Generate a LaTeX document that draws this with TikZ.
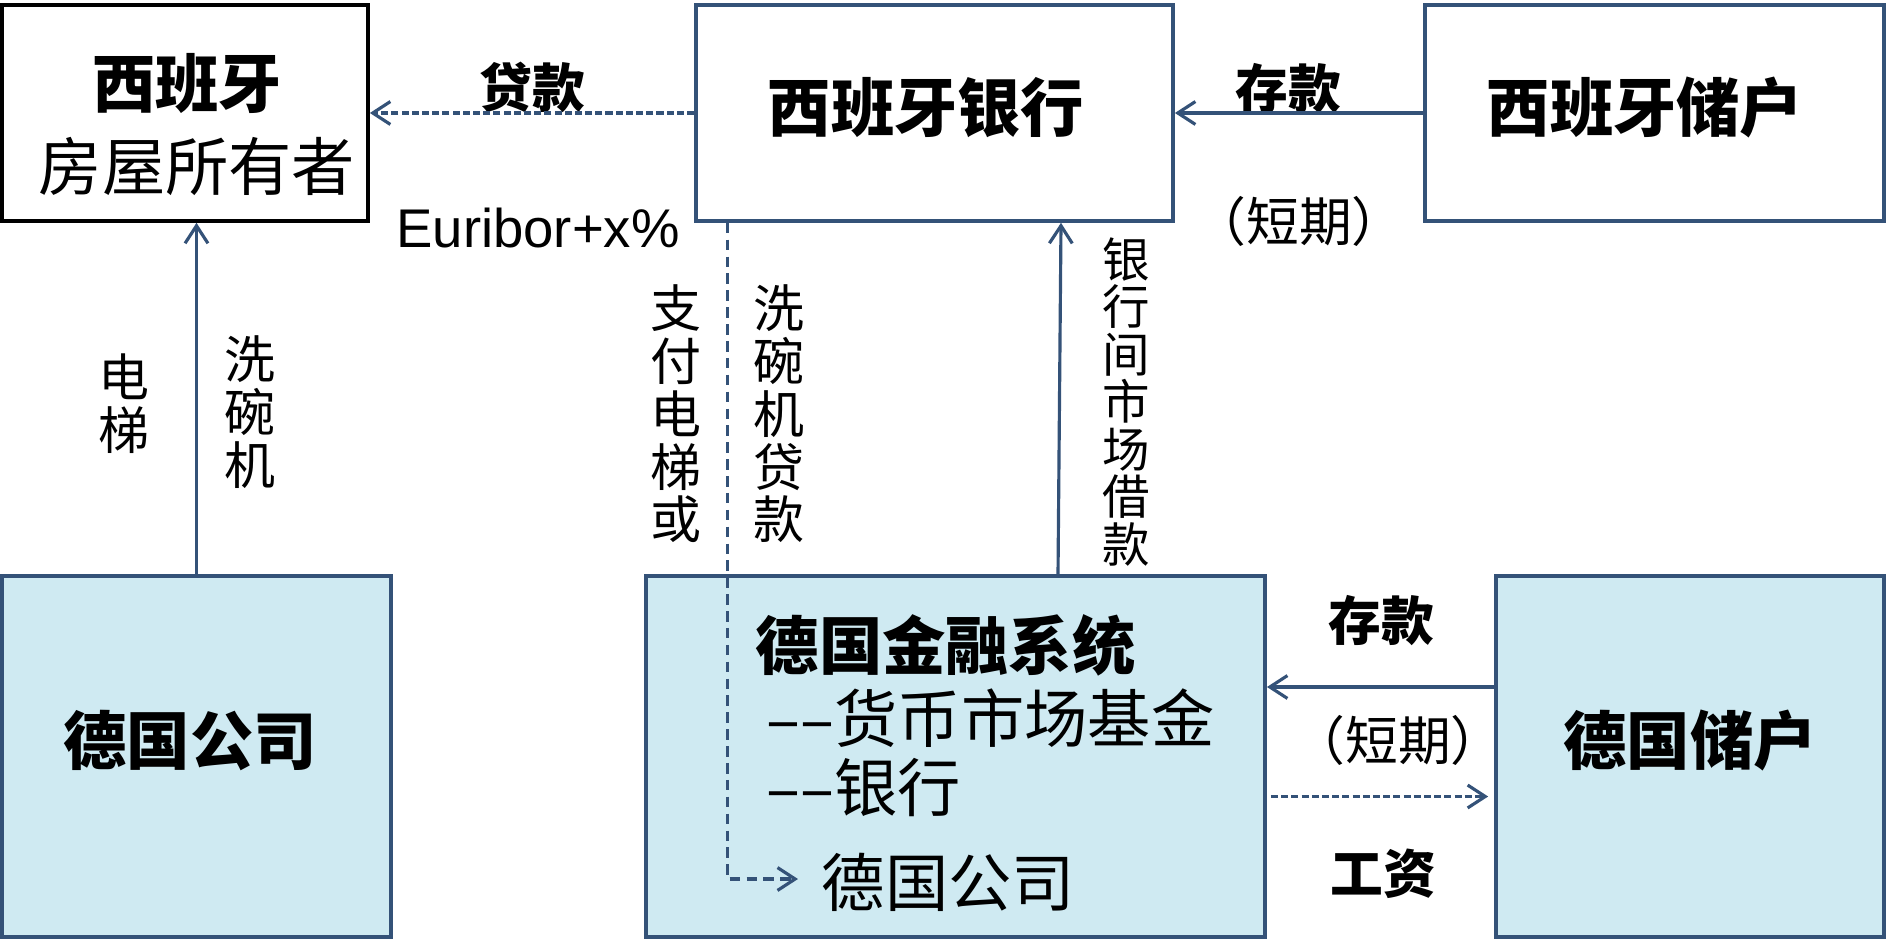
\documentclass[tikz,border=0pt]{standalone}
\usepackage{fontspec}
\setmainfont{Noto Sans CJK SC}
\newfontfamily\arialf{Liberation Sans}
\usetikzlibrary{arrows.meta,calc}
\definecolor{boxfill}{RGB}{207,234,242}
\definecolor{lineblue}{RGB}{52,82,120}
\tikzset{
  pbox/.style={draw=lineblue,line width=1pt,inner sep=0pt},
  bbox/.style={pbox,fill=boxfill},
  txt/.style={inner sep=0pt,text=black},
  big/.style={txt,font=\fontsize{18}{20}\selectfont\bfseries},
  bigr/.style={txt,font=\fontsize{18}{20}\selectfont},
  lab/.style={txt,font=\fontsize{15}{17}\selectfont\bfseries},
  labr/.style={txt,font=\fontsize{15}{17}\selectfont},
  vlab/.style={txt,align=center,font=\fontsize{14.5}{15}\selectfont},
  vlabs/.style={txt,align=center,font=\fontsize{13.5}{13.5}\selectfont},
  tip/.style={-{Straight Barb[length=5pt,width=6.5pt]}},
  conn/.style={draw=lineblue,line width=0.9pt,tip},
  dconn/.style={conn,dash pattern=on 2pt off 0.9pt},
  dconnl/.style={conn,dash pattern=on 3pt off 1.8pt},
}
\begin{document}
\begin{tikzpicture}[x=0.01cm,y=-0.01cm]
\useasboundingbox (0,0) rectangle (1886,940);
% boxes
\node[pbox,draw=black,minimum width=3.66cm,minimum height=2.16cm] (A) at (185,113) {};
\node[pbox,minimum width=4.77cm,minimum height=2.16cm] (B) at (934.5,113) {};
\node[pbox,minimum width=4.59cm,minimum height=2.16cm] (C) at (1654.5,113) {};
\node[bbox,minimum width=3.89cm,minimum height=3.61cm] (D) at (196.5,756.5) {};
\node[bbox,minimum width=6.19cm,minimum height=3.61cm] (E) at (955.5,756.5) {};
\node[bbox,minimum width=3.88cm,minimum height=3.61cm] (F) at (1690,756.5) {};
% box texts
\node[big] (At) at (187,83) {西班牙};
\node[bigr] (As) at (197,166) {房屋所有者};
\node[big] (Bt) at (926,108) {西班牙银行};
\node[big] (Ct) at (1645,108) {西班牙储户};
\node[big] (Dt) at (190,740) {德国公司};
\node[big] (Ft) at (1690,740) {德国储户};
\node[big,anchor=west] (Et1) at (755,645) {德国金融系统};
\node[bigr,anchor=west] (Et2) at (766,718) {––货币市场基金};
\node[bigr,anchor=west] (Et3) at (766,787) {––银行};
\node[bigr,anchor=west] (Et4) at (821,882) {德国公司};
% labels
\node[lab] (l1) at (532,87) {贷款};
\node[txt,font=\arialf\fontsize{15.5}{17}\selectfont] (l2) at (538,228) {Euribor+x\%};
\node[lab] (l3) at (1288,89) {存款};
\node[labr] (l4) at (1299,221) {（短期）};
\node[lab] (l5) at (1381,621) {存款};
\node[labr] (l6) at (1398,740) {（短期）};
\node[lab] (l7) at (1383,874) {工资};
\node[vlab] (v1) at (124,404) {电\\梯};
\node[vlab] (v2) at (250,412) {洗\\碗\\机};
\node[vlab] (v3) at (676,414) {支\\付\\电\\梯\\或};
\node[vlab] (v4) at (779,414) {洗\\碗\\机\\贷\\款};
\node[vlabs] (v5) at (1126,402) {银\\行\\间\\市\\场\\借\\款};
% connectors
\draw[dconn] (B.west) -- (A.east);
\draw[conn] (C.west) -- (B.east);
\draw[conn] (D.north) -- (D.north |- A.south);
\draw[conn] ($(E.north)+(102.5,0)$) -- ($(B.south)+(126.5,0)$);
\coordinate (etip) at (798,879);
\draw[dconnl] ($(B.south)+(-207,0)$) |- (etip);
\draw[conn] ($(F.west)+(0,-69.5)$) -- ($(E.east)+(0,-69.5)$);
\draw[dconn] ($(E.east)+(4,40)$) -- ($(F.west)+(-6,40)$);
\end{tikzpicture}
\end{document}
